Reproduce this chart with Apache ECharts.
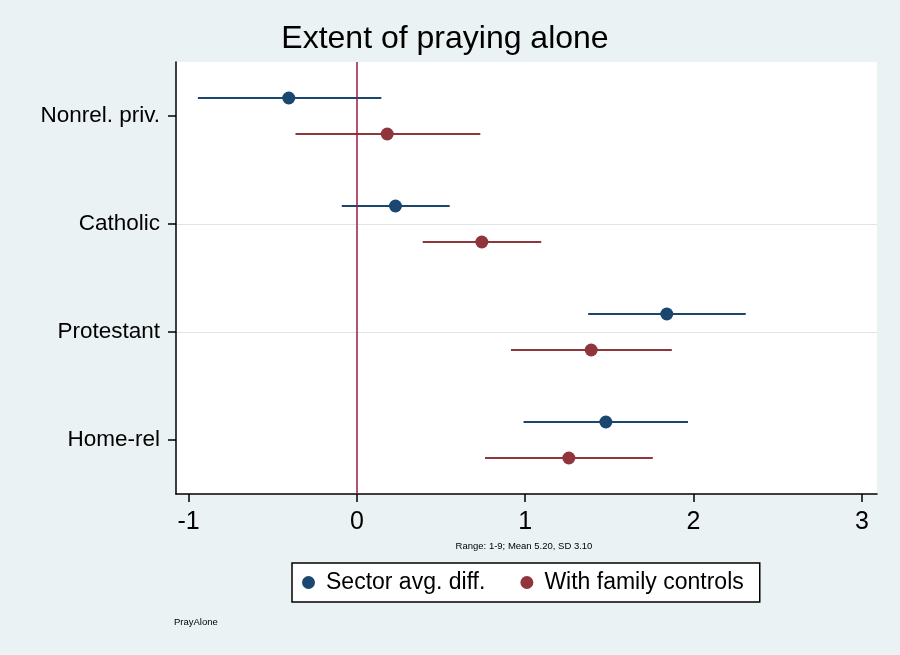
<!DOCTYPE html>
<html>
<head>
<meta charset="utf-8">
<script src="https://cdn.jsdelivr.net/npm/echarts@6/dist/echarts.min.js"></script>
<style>
html,body{margin:0;padding:0;background:#eaf2f3;}
#c{width:900px;height:655px;}
</style>
</head>
<body>
<div id="c"></div>
<script>
const categories = ['Nonrel. priv.', 'Catholic', 'Protestant', 'Home-rel'];
const sectorEst = [-0.405, 0.229, 1.841, 1.479];
const sectorLo  = [-0.945, -0.090, 1.374, 0.990];
const sectorHi  = [0.145, 0.551, 2.310, 1.967];
const familyEst = [0.180, 0.742, 1.392, 1.259];
const familyLo  = [-0.365, 0.391, 0.915, 0.761];
const familyHi  = [0.733, 1.095, 1.871, 1.758];
const xTicks = [-1, 0, 1, 2, 3];

const FONT = 'Liberation Sans';
const BLUE = '#1a476f';
const RED = '#90353b';
const OFF = 1/6;

const catPos = categories.map((c, i) => i + 0.5);

function ciData(lo, hi, off) {
  return categories.map((c, i) => [lo[i], hi[i], i + 0.5 + off]);
}
function ptData(est, off) {
  return categories.map((c, i) => [est[i], i + 0.5 + off]);
}
function barRender(color) {
  return function (params, api) {
    const a = api.coord([api.value(0), api.value(2)]);
    const b = api.coord([api.value(1), api.value(2)]);
    return {type: 'line', shape: {x1: a[0], y1: a[1], x2: b[0], y2: b[1]},
            style: {stroke: color, lineWidth: 2}};
  };
}

const chart = echarts.init(document.getElementById('c'));
chart.setOption({
  backgroundColor: '#eaf2f3',
  animation: false,
  textStyle: {fontFamily: FONT},
  grid: {left: 176, right: 23, top: 62, bottom: 161, show: true, backgroundColor: '#ffffff', borderWidth: 0},
  xAxis: {
    type: 'value', min: -1.075, max: 3.09,
    axisLine: {show: true, onZero: false, lineStyle: {color: '#000', width: 1.5}},
    axisTick: {show: true, customValues: xTicks, length: 8, lineStyle: {color: '#000', width: 1.5}},
    axisLabel: {customValues: xTicks, fontSize: 25, color: '#000', fontFamily: FONT, margin: 16,
                formatter: v => String(v)},
    splitLine: {show: false}
  },
  yAxis: {
    type: 'value', min: 0, max: 4, interval: 1, inverse: true,
    axisLine: {show: true, onZero: false, lineStyle: {color: '#000', width: 1.5}},
    axisTick: {show: true, customValues: catPos, length: 8, lineStyle: {color: '#000', width: 1.5}},
    axisLabel: {customValues: catPos, fontSize: 22.5, color: '#000', fontFamily: FONT, margin: 16,
                lineHeight: 26, padding: [4, 0, 0, 0],
                formatter: v => categories[Math.floor(v)]},
    splitLine: {show: true, showMinLine: false, showMaxLine: false, lineStyle: {color: '#dfe5e7', width: 1.2}}
  },
  legend: {
    data: ['Sector avg. diff.', 'With family controls'],
    left: 292, top: 563,
    orient: 'horizontal',
    icon: 'circle', itemWidth: 13, itemHeight: 13, itemGap: 35,
    padding: [8, 16, 8, 10],
    backgroundColor: '#ffffff', borderColor: '#000', borderWidth: 1.5, borderRadius: 0,
    textStyle: {fontSize: 23, color: '#000', fontFamily: FONT, padding: [0, 0, 0, 6]}
  },
  graphic: [
    {type: 'text', x: 445, y: 39, style: {text: 'Extent of praying alone', font: '32px "Liberation Sans"', fill: '#000', textAlign: 'center', textVerticalAlign: 'middle'}},
    {type: 'text', x: 524, y: 546, style: {text: 'Range: 1-9; Mean 5.20, SD 3.10', font: '9.5px "Liberation Sans"', fill: '#000', textAlign: 'center', textVerticalAlign: 'middle'}},
    {type: 'text', x: 174, y: 622, style: {text: 'PrayAlone', font: '9.5px "Liberation Sans"', fill: '#000', textAlign: 'left', textVerticalAlign: 'middle'}}
  ],
  series: [
    {type: 'custom', name: 'ci1', renderItem: barRender(BLUE), data: ciData(sectorLo, sectorHi, -OFF), encode: {x: [0, 1], y: 2}, z: 3,
     markLine: {silent: true, symbol: 'none', label: {show: false}, lineStyle: {color: '#9b1b45', width: 1.5, type: 'solid'}, data: [{xAxis: 0}]}},
    {type: 'custom', name: 'ci2', renderItem: barRender(RED), data: ciData(familyLo, familyHi, OFF), encode: {x: [0, 1], y: 2}, z: 3},
    {type: 'scatter', name: 'Sector avg. diff.', data: ptData(sectorEst, -OFF), symbol: 'circle', symbolSize: 13, itemStyle: {color: BLUE, opacity: 1}, z: 5},
    {type: 'scatter', name: 'With family controls', data: ptData(familyEst, OFF), symbol: 'circle', symbolSize: 13, itemStyle: {color: RED, opacity: 1}, z: 5}
  ]
});
</script>
</body>
</html>
